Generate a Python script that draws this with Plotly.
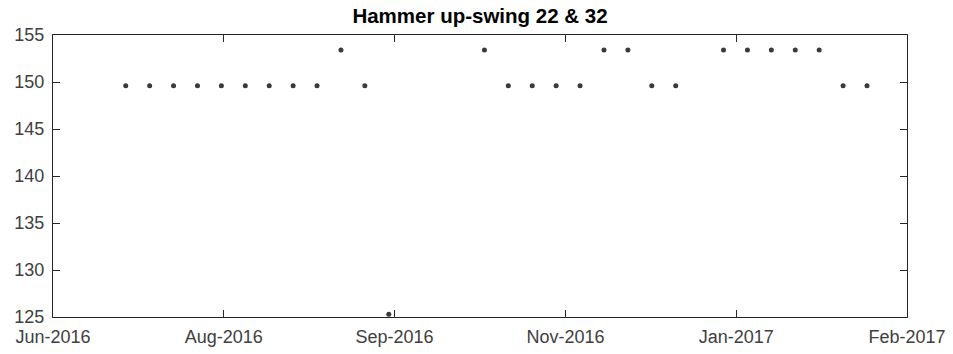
import plotly.graph_objects as go
import pandas as pd

# Data (weekly readings)
dates = ["2016-07-06", "2016-07-13", "2016-07-20", "2016-07-27", "2016-08-03",
         "2016-08-10", "2016-08-17", "2016-08-24", "2016-08-31", "2016-09-07",
         "2016-09-14", "2016-09-21", "2016-10-19", "2016-10-26", "2016-11-02",
         "2016-11-09", "2016-11-16", "2016-11-23", "2016-11-30", "2016-12-07",
         "2016-12-14", "2016-12-28", "2017-01-04", "2017-01-11", "2017-01-18",
         "2017-01-25", "2017-02-01", "2017-02-08"]
values = [149.6, 149.6, 149.6, 149.6, 149.6,
          149.6, 149.6, 149.6, 149.6, 153.4,
          149.6, 125.3, 153.4, 149.6, 149.6,
          149.6, 149.6, 153.4, 153.4, 149.6,
          149.6, 153.4, 153.4, 153.4, 153.4,
          153.4, 149.6, 149.6]

tick_labels = ["Jun-2016", "Aug-2016", "Sep-2016", "Nov-2016", "Jan-2017", "Feb-2017"]
y_ticks = [125, 130, 135, 140, 145, 150, 155]

# axis limits / tick placement (MATLAB datetick style, equal spacing)
x_start = pd.Timestamp("2016-06-14 17:00")
tick_step = pd.Timedelta(days=50)
tick_dates = [x_start + i * tick_step for i in range(len(tick_labels))]
x_end = tick_dates[-1]

font = "Liberation Sans, Arial, Helvetica, sans-serif"
axcol = "#262626"

W, H = 953, 354

fig = go.Figure()
fig.add_trace(go.Scatter(
    x=pd.to_datetime(dates), y=values, mode="markers",
    marker=dict(size=5, color="#3a3a3a"),
    showlegend=False,
))

fig.update_layout(
    width=W, height=H,
    margin=dict(l=53, r=46, t=35, b=37),
    paper_bgcolor="white", plot_bgcolor="white",
    title=dict(text="<b>Hammer up-swing 22 & 32</b>", x=0.5, xref="paper",
               xanchor="center", y=1 - 16 / H, yref="container", yanchor="middle",
               automargin=False,
               font=dict(family=font, size=20.5, color="#000000")),
)
fig.update_xaxes(
    type="date", range=[x_start, x_end], automargin=False,
    tickmode="array", tickvals=tick_dates, ticktext=tick_labels,
    showgrid=False, zeroline=False,
    showline=True, linecolor=axcol, linewidth=1, mirror="ticks",
    ticks="inside", ticklen=7, tickcolor=axcol, tickwidth=1,
    ticklabelstandoff=3,
    tickfont=dict(family=font, size=18, color="#404040"),
)
fig.update_yaxes(
    range=[125, 155], tickmode="array", tickvals=y_ticks, automargin=False,
    showgrid=False, zeroline=False,
    showline=True, linecolor=axcol, linewidth=1, mirror="ticks",
    ticks="inside", ticklen=7, tickcolor=axcol, tickwidth=1,
    ticklabelstandoff=4,
    tickfont=dict(family=font, size=18, color="#404040"),
)

fig.write_html("out.html",
               config={"displayModeBar": False, "staticPlot": True},
               post_script="document.body.style.margin='0';document.body.style.overflow='hidden';")
